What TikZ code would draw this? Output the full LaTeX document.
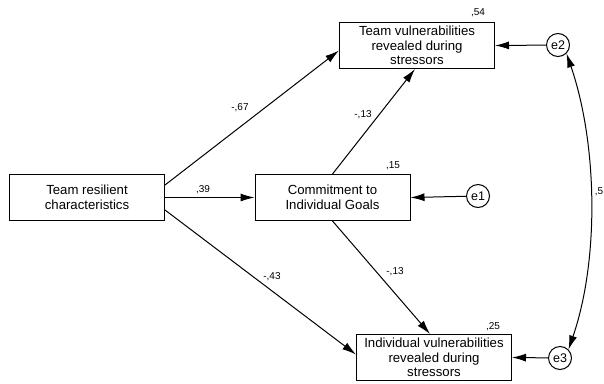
\documentclass[tikz,border=0pt]{standalone}
\usepackage{fontspec}
\setmainfont{Liberation Sans}
\usetikzlibrary{arrows.meta}
\begin{document}
\begin{tikzpicture}[x=1pt,y=-1pt,
  box/.style={draw, line width=1pt, minimum width=155pt, minimum height=46pt, inner sep=1pt, align=center, font=\fontsize{13.2}{14.5}\selectfont},
  err/.style={draw, circle, line width=1pt, minimum size=23pt, inner sep=0pt, font=\fontsize{12.5}{13}\selectfont},
  arr/.style={line width=1pt, -{Latex[length=14pt,width=8pt]}},
  darr/.style={line width=1pt, {Latex[length=14pt,width=8pt]}-{Latex[length=14pt,width=8pt]}},
  lbl/.style={font=\fontsize{10}{11}\selectfont, inner sep=0pt}]
\useasboundingbox (0,0) rectangle (604,383);
\node[box] (L) at (87,197.5) {Team resilient\\characteristics};
\node[box] (M) at (332.5,197.5) {Commitment to\\Individual Goals};
\node[box] (T) at (417,45.5) {Team vulnerabilities\\revealed during\\stressors};
\node[box] (B) at (434,357.5) {Individual vulnerabilities\\revealed during\\stressors};
\node[err] (e1) at (478,196) {e1};
\node[err] (e2) at (558,45) {e2};
\node[err] (e3) at (560,358) {e3};
\draw[arr] ([yshift=12.5pt]L.east) -- ([yshift=-5pt]T.west);
\draw[arr] (L.east) -- (M.west);
\draw[arr] ([yshift=-12.5pt]L.east) -- ([yshift=3pt]B.west);
\draw[arr] (M.north) -- ([xshift=-2pt]T.south);
\draw[arr] (M.south) -- ([xshift=-4pt]B.north);
\draw[arr] (e1) -- (M.east);
\draw[arr] (e2) -- (T.east);
\draw[arr] (e3) -- (B.east);
\draw[darr] (e2.south east) .. controls +(31,90) and +(31,-90) .. (e3.north east);
\node[lbl] (l67) at (240,108) {-,67};
\node[lbl] (l39) at (203,190) {,39};
\node[lbl] (l43) at (272,277) {-,43};
\node[lbl] (l13a) at (363,115) {-,13};
\node[lbl] (l13b) at (395,272) {-,13};
\node[lbl] (l54) at (478,13) {,54};
\node[lbl] (l15) at (393,166) {,15};
\node[lbl] (l25) at (493,327) {,25};
\node[lbl] (l5) at (599,192) {,5};
\end{tikzpicture}
\end{document}
